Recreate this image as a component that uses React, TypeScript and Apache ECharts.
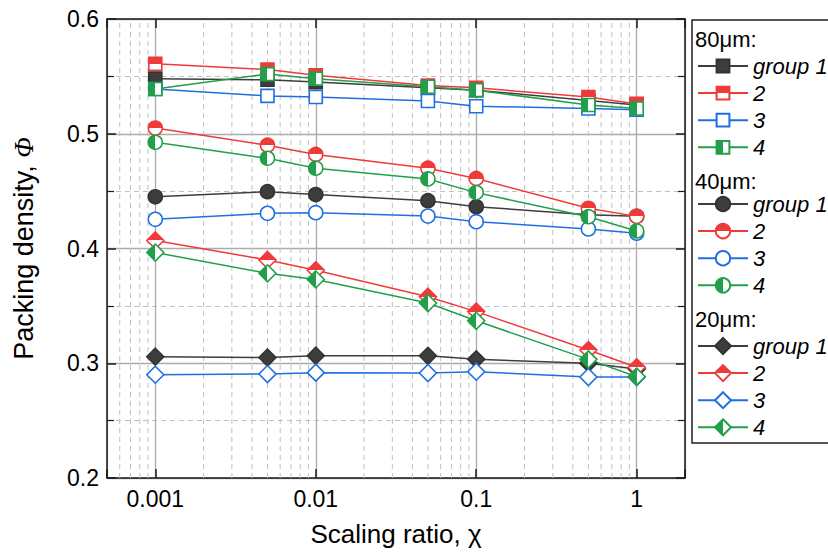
import React, { useEffect, useRef } from "react";
import * as echarts from "echarts";

const X_VALUES = [0.001, 0.005, 0.01, 0.05, 0.1, 0.5, 1];
const X_TICK_LABELS = ["0.001", "0.01", "0.1", "1"];
const X_MINOR_GRID = [
  0.0006, 0.0007, 0.0008, 0.0009,
  0.002, 0.003, 0.004, 0.005, 0.006, 0.007, 0.008, 0.009,
  0.02, 0.03, 0.04, 0.05, 0.06, 0.07, 0.08, 0.09,
  0.2, 0.3, 0.4, 0.5, 0.6, 0.7, 0.8, 0.9,
];
const GROUP_LABELS = ["group 1", "2", "3", "4"];
const SIZE_LABELS = ["80μm", "40μm", "20μm"];

const D80_G1 = [0.548, 0.547, 0.545, 0.540, 0.538, 0.529, 0.525];
const D80_G2 = [0.561, 0.556, 0.551, 0.542, 0.540, 0.532, 0.526];
const D80_G3 = [0.539, 0.533, 0.532, 0.5285, 0.524, 0.522, 0.521];
const D80_G4 = [0.539, 0.552, 0.548, 0.541, 0.538, 0.525, 0.522];

const D40_G1 = [0.445, 0.4495, 0.447, 0.4417, 0.4364, 0.4295, 0.428];
const D40_G2 = [0.505, 0.490, 0.482, 0.470, 0.461, 0.435, 0.428];
const D40_G3 = [0.4254, 0.4307, 0.4312, 0.4283, 0.4234, 0.417, 0.4133];
const D40_G4 = [0.4925, 0.4786, 0.470, 0.4606, 0.4487, 0.4277, 0.4153];

const D20_G1 = [0.3057, 0.305, 0.3066, 0.3065, 0.3034, 0.300, 0.295];
const D20_G2 = [0.407, 0.390, 0.381, 0.358, 0.345, 0.3115, 0.2965];
const D20_G3 = [0.290, 0.2906, 0.2918, 0.2915, 0.2926, 0.288, 0.288];
const D20_G4 = [0.3965, 0.3784, 0.373, 0.3525, 0.337, 0.3034, 0.2883];

const Y_MIN = 0.2;
const Y_MAX = 0.6;

const FONT = "Liberation Sans";
const GREY = "#3d3d3d";
const RED = "#f03a3a";
const BLUE = "#1f6fe3";
const GREEN = "#20a04a";
const LINE_COLORS = [GREY, RED, BLUE, GREEN];

const halfV = (c: string) => ({
  type: "linear", x: 0, y: 0, x2: 0, y2: 1,
  colorStops: [
    { offset: 0, color: c }, { offset: 0.5, color: c },
    { offset: 0.5, color: "#ffffff" }, { offset: 1, color: "#ffffff" },
  ],
});
const halfH = (c: string) => ({
  type: "linear", x: 0, y: 0, x2: 1, y2: 0,
  colorStops: [
    { offset: 0, color: c }, { offset: 0.5, color: c },
    { offset: 0.5, color: "#ffffff" }, { offset: 1, color: "#ffffff" },
  ],
});
const FILLS = [GREY, halfV(RED), "#ffffff", halfH(GREEN)];

const SETS = [
  { size: SIZE_LABELS[0], symbol: "rect", symbolSize: 13, legendH: 16, values: [D80_G1, D80_G2, D80_G3, D80_G4] },
  { size: SIZE_LABELS[1], symbol: "circle", symbolSize: 14, legendH: 18, values: [D40_G1, D40_G2, D40_G3, D40_G4] },
  { size: SIZE_LABELS[2], symbol: "diamond", symbolSize: 17, legendH: 20, values: [D20_G1, D20_G2, D20_G3, D20_G4] },
];
const LEGEND_TOPS = [55, 193, 335];
const HEADER_Y = [39, 181, 319];

export default function App() {
  const ref = useRef<HTMLDivElement>(null);
  useEffect(() => {
    if (!ref.current) return;
    const chart = echarts.init(ref.current, null, { renderer: "svg" });

    const series: any[] = [];
    X_MINOR_GRID.forEach((v, k) => {
      series.push({
        type: "line",
        name: `minor-${k}`,
        data: [[v, Y_MIN], [v, Y_MAX]],
        symbol: "none",
        z: 1,
        silent: true,
        lineStyle: { type: [5, 4], color: "#c0c0c0", width: 1 },
      });
    });
    SETS.forEach((s) => {
      s.values.forEach((vals, i) => {
        series.push({
          type: "line",
          name: `${s.size}: ${GROUP_LABELS[i]}`,
          data: X_VALUES.map((x, k) => [x, vals[k]]),
          symbol: s.symbol,
          symbolSize: s.symbolSize,
          showAllSymbol: true,
          z: 3,
          lineStyle: { color: LINE_COLORS[i], width: 1.5 },
          itemStyle: { color: FILLS[i], borderColor: i === 0 ? "#333333" : LINE_COLORS[i], borderWidth: 1.6 },
          emphasis: { disabled: true },
        });
      });
    });

    const axisLine = { show: true, lineStyle: { color: "#1a1a1a", width: 1.5 } };
    const option: any = {
      animation: false,
      backgroundColor: "#ffffff",
      grid: { left: 107, right: 143, top: 19, bottom: 76 },
      xAxis: [
        {
          type: "log",
          min: 0.0005,
          max: 2,
          position: "bottom",
          axisLine,
          axisTick: { show: true, inside: true, length: 9, lineStyle: { color: "#1a1a1a", width: 1.5 } },
          axisLabel: {
            fontSize: 23,
            color: "#000",
            fontFamily: FONT,
            margin: 9,
            formatter: (v: number) => {
              const e = Math.log10(v);
              if (Math.abs(e - Math.round(e)) > 1e-6) return "";
              const idx = Math.round(e) + 3;
              return X_TICK_LABELS[idx] ?? "";
            },
          },
          splitLine: { show: true, lineStyle: { color: "#ababab", width: 1.3 } },
          name: "Scaling ratio, χ",
          nameLocation: "middle",
          nameGap: 43,
          nameTextStyle: { fontSize: 26, color: "#000", fontFamily: FONT },
        },
        {
          type: "log",
          min: 0.0005,
          max: 2,
          position: "top",
          axisLine,
          axisTick: { show: true, inside: true, length: 9, lineStyle: { color: "#1a1a1a", width: 1.5 } },
          axisLabel: { show: false },
          splitLine: { show: false },
        },
      ],
      yAxis: [
        {
          type: "value",
          min: Y_MIN,
          max: Y_MAX,
          interval: 0.1,
          position: "left",
          axisLine,
          axisTick: { show: true, inside: true, length: 9, lineStyle: { color: "#1a1a1a", width: 1.5 } },
          minorTick: { show: true, splitNumber: 2, length: 7, lineStyle: { color: "#1a1a1a", width: 1.2 } },
          minorSplitLine: { show: true, lineStyle: { color: "#c0c0c0", type: [5, 4], width: 1 } },
          splitLine: { show: true, lineStyle: { color: "#ababab", width: 1.3 } },
          axisLabel: {
            fontSize: 23,
            color: "#000",
            fontFamily: FONT,
            margin: 8,
            formatter: (v: number) => v.toFixed(1),
          },
          name: "Packing density, {i|Φ}",
          nameLocation: "middle",
          nameGap: 70,
          nameTextStyle: {
            fontSize: 27,
            color: "#000",
            fontFamily: FONT,
            rich: { i: { fontSize: 27, fontStyle: "italic", fontFamily: "Liberation Serif", color: "#000" } },
          },
        },
        {
          type: "value",
          min: Y_MIN,
          max: Y_MAX,
          interval: 0.1,
          position: "right",
          axisLine,
          axisTick: { show: true, inside: true, length: 9, lineStyle: { color: "#1a1a1a", width: 1.5 } },
          minorTick: { show: true, splitNumber: 2, length: 7, lineStyle: { color: "#1a1a1a", width: 1.2 } },
          axisLabel: { show: false },
          splitLine: { show: false },
        },
      ],
      legend: SETS.map((s, j) => ({
        data: GROUP_LABELS.map((g) => `${s.size}: ${g}`),
        orient: "vertical",
        left: 697,
        top: LEGEND_TOPS[j],
        itemWidth: 50,
        itemHeight: s.legendH,
        itemGap: 5.1,
        padding: 0,
        z: 10,
        selectedMode: false,
        formatter: (n: string) => n.split(": ")[1],
        textStyle: { fontSize: 22, fontStyle: "italic", color: "#000", fontFamily: FONT, lineHeight: 22 },
      })),
      graphic: [
        {
          type: "rect",
          z: 5,
          shape: { x: 692, y: 20, width: 200, height: 423 },
          style: { fill: "#ffffff", stroke: "#222222", lineWidth: 1.5 },
        },
        ...SETS.map((s, j) => ({
          type: "text",
          z: 6,
          x: 695,
          y: HEADER_Y[j],
          style: { text: `${s.size}:`, fontSize: 22, fontFamily: FONT, fill: "#000", verticalAlign: "middle" },
        })),
      ],
      series,
    };
    chart.setOption(option);
    return () => chart.dispose();
  }, []);

  return (
    <div
      ref={ref}
      style={{ position: "fixed", left: 0, top: 0, width: 828, height: 554, background: "#fff" }}
    />
  );
}
